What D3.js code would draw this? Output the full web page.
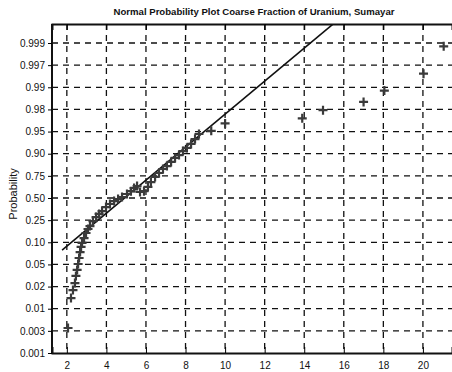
<!DOCTYPE html>
<html>
<head>
<meta charset="utf-8">
<script src="https://cdn.jsdelivr.net/npm/d3@7"></script>
<style>
  body { margin: 0; background: #fff; }
  svg { display: block; }
</style>
</head>
<body>
<svg id="chart"></svg>
<script>
// Probability ticks (equally spaced on the plot) and their labels
const probTicks = [0.001, 0.003, 0.01, 0.02, 0.05, 0.10, 0.25, 0.50, 0.75, 0.90, 0.95, 0.98, 0.99, 0.997, 0.999];
const probLabels = ['0.001', '0.003', '0.01', '0.02', '0.05', '0.10', '0.25', '0.50', '0.75', '0.90', '0.95', '0.98', '0.99', '0.997', '0.999'];
const xTicks = [2, 4, 6, 8, 10, 12, 14, 16, 18, 20];

const obsX = [2.06, 2.21, 2.31, 2.41, 2.46, 2.52, 2.57, 2.62, 2.67, 2.72, 2.77, 2.87, 2.97, 3.07, 3.17,
  3.32, 3.48, 3.63, 3.78, 3.98, 4.18, 4.39, 4.59, 4.79, 5.04, 5.24, 5.40, 5.55, 5.70, 5.90,
  6.10, 6.25, 6.46, 6.66, 6.86, 7.06, 7.27, 7.47, 7.67, 7.87, 8.07, 8.28, 8.48, 8.68,
  9.3, 10.0, 13.9, 14.95, 17.0, 18.05, 20.03, 21.05];
const obsP = [0.0039, 0.0148, 0.0184, 0.0248, 0.0344, 0.0425, 0.051, 0.0645, 0.078, 0.0895, 0.0985, 0.1285, 0.163, 0.19, 0.2095,
  0.244, 0.285, 0.32, 0.3525, 0.3975, 0.4325, 0.465, 0.4875, 0.51, 0.545, 0.5775, 0.6125, 0.635, 0.5675, 0.5775,
  0.625, 0.68, 0.7375, 0.7695, 0.7965, 0.816, 0.8445, 0.8715, 0.891, 0.906, 0.913, 0.922, 0.933, 0.9445,
  0.951, 0.961, 0.968, 0.979, 0.9834, 0.9885, 0.9943, 0.9987];

// Fitted normal line: two points on it
const fitX = [1.76, 14.31];
const fitP = [0.0825, 0.999];

const W = 452, H = 372;
const margin = {top: 24, right: 0, bottom: 19, left: 52};
const width = W - margin.left - margin.right;
const height = H - margin.top - margin.bottom;

const svg = d3.select('#chart').attr('width', W).attr('height', H);

const x = d3.scaleLinear().domain([1.25, 21.47]).range([margin.left, W - margin.right]);

// equal spacing between probability ticks, from 0.001 at the bottom to 0.999
const yBottom = H - margin.bottom, yTop = 43;
const step = (yBottom - yTop) / (probTicks.length - 1);
const y = d3.scaleLinear().domain(probTicks).range(probTicks.map((d, i) => yBottom - i * step));

svg.append('defs').append('clipPath').attr('id', 'clip')
  .append('rect').attr('x', margin.left).attr('y', margin.top).attr('width', width).attr('height', height);

// Grid
const grid = svg.append('g').attr('stroke', '#111').attr('stroke-width', 1.3).attr('stroke-dasharray', '6,5');
grid.selectAll('.hg').data(probTicks.slice(1)).enter().append('line')
  .attr('x1', margin.left).attr('x2', W)
  .attr('y1', d => y(d)).attr('y2', d => y(d));
grid.selectAll('.vg').data(xTicks).enter().append('line')
  .attr('x1', d => x(d)).attr('x2', d => x(d))
  .attr('y1', margin.top).attr('y2', yBottom);

// Axes
svg.append('g')
  .attr('transform', `translate(0,${yBottom})`)
  .call(d3.axisBottom(x).tickValues(xTicks).tickSize(-6).tickPadding(9))
  .call(g => g.select('.domain').attr('stroke-width', 2).attr('stroke', '#111'));

svg.append('g')
  .attr('transform', `translate(0,${margin.top})`)
  .call(d3.axisTop(x).tickValues(xTicks).tickSize(-6).tickFormat(''))
  .call(g => g.select('.domain').attr('stroke-width', 2).attr('stroke', '#111'));

svg.append('g')
  .attr('transform', `translate(${margin.left},0)`)
  .call(d3.axisLeft(y).tickValues(probTicks).tickSize(4).tickPadding(3)
    .tickFormat((d, i) => probLabels[i]))
  .call(g => g.select('.domain').attr('d', `M0,${margin.top}V${yBottom}`).attr('stroke-width', 2).attr('stroke', '#111'));

svg.selectAll('.tick text')
  .style('font-family', 'Arial, "Liberation Sans", sans-serif')
  .style('font-size', '10px')
  .attr('fill', '#111');

// Fitted line, extended to the frame
const a = [x(fitX[0]), y(fitP[0])], b = [x(fitX[1]), y(fitP[1])];
const t = 1.4;
const fitPts = [a, [a[0] + (b[0] - a[0]) * t, a[1] + (b[1] - a[1]) * t]];
svg.append('path')
  .attr('clip-path', 'url(#clip)')
  .attr('d', d3.line()(fitPts))
  .attr('fill', 'none')
  .attr('stroke', '#111')
  .attr('stroke-width', 1.6);

// Observations as plus markers
const obs = obsX.map((v, i) => ({x: v, p: obsP[i]}));
svg.append('g').selectAll('path').data(obs).enter().append('path')
  .attr('transform', d => `translate(${x(d.x)},${y(d.p)})`)
  .attr('d', 'M-4.5,0H4.5M0,-4.5V4.5')
  .attr('stroke', '#3a3a3a')
  .attr('stroke-width', 2.2);

// Title and axis label
svg.append('text')
  .attr('x', 254).attr('y', 15)
  .attr('text-anchor', 'middle')
  .style('font-family', 'Arial, "Liberation Sans", sans-serif')
  .style('font-size', '9.6px')
  .style('font-weight', 'bold')
  .attr('fill', '#111')
  .text('Normal Probability Plot Coarse Fraction of Uranium, Sumayar');

svg.append('text')
  .attr('transform', `translate(17,${194}) rotate(-90)`)
  .attr('text-anchor', 'middle')
  .style('font-family', 'Arial, "Liberation Sans", sans-serif')
  .style('font-size', '11px')
  .attr('fill', '#111')
  .text('Probability');
</script>
</body>
</html>
